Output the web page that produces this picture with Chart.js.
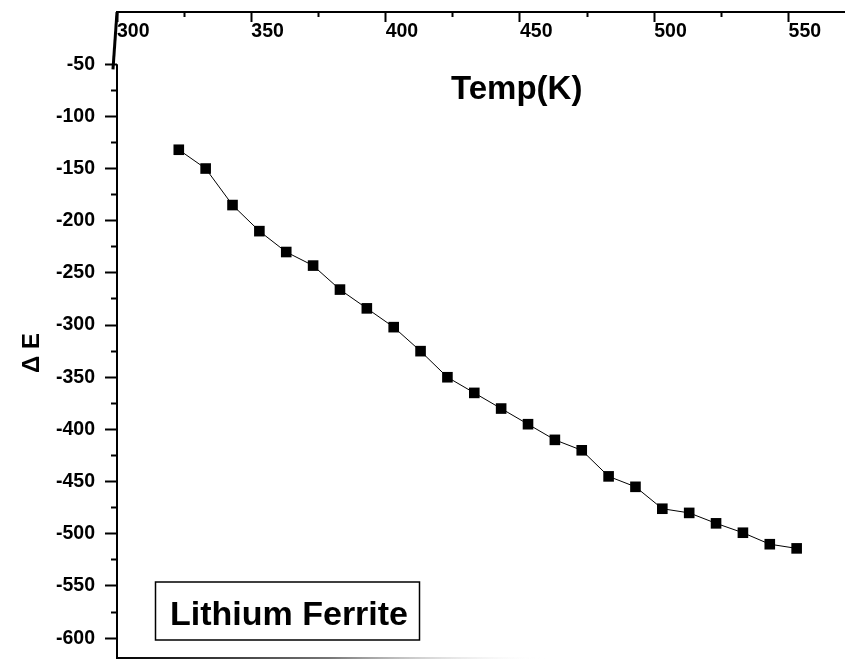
<!DOCTYPE html>
<html>
<head>
<meta charset="utf-8">
<script src="https://cdn.jsdelivr.net/npm/chart.js@4.4.1/dist/chart.umd.min.js"></script>
<style>
  html, body { margin: 0; padding: 0; background: #fff; }
  #wrap { position: relative; width: 845px; height: 660px; }
</style>
</head>
<body>
<div id="wrap"><canvas id="chart"></canvas></div>
<script>
// temperature (K) and ΔE
const temps = [323, 333, 343, 353, 363, 373, 383, 393, 403, 413, 423, 433,
  443, 453, 463, 473, 483, 493, 503, 513, 523, 533, 543, 553]
const deltaE = [-132, -150, -185, -210, -230, -243, -266, -284, -302, -325, -350, -365,
  -380, -395, -410, -420, -445, -455, -476, -480, -490, -499, -510, -514]

const xTicks = [300, 350, 400, 450, 500, 550]
const xMinor = [325, 375, 425, 475, 525]
const yTicks = [-50, -100, -150, -200, -250, -300, -350, -400, -450, -500, -550, -600]
const yMinor = [-75, -125, -175, -225, -275, -325, -375, -425, -475, -525, -575]

const FONT = 'Liberation Sans, Arial, sans-serif'
const tickFont = { family: FONT, size: 19.5, weight: 'bold', lineHeight: 1 }

const noPad = s => { s.paddingLeft = 0; s.paddingRight = 0; s.paddingTop = 0; s.paddingBottom = 0 }

const decor = {
  id: 'decor',
  afterDraw(chart) {
    const { ctx, chartArea: a, scales } = chart
    const xs = scales.x, ys = scales.y
    const left = xs.getPixelForValue(300)
    ctx.save()
    ctx.strokeStyle = '#000'
    ctx.lineCap = 'butt'

    // left axis, starting at -50
    ctx.lineWidth = 2
    ctx.beginPath()
    ctx.moveTo(left, ys.getPixelForValue(-50))
    ctx.lineTo(left, a.bottom)
    ctx.stroke()

    // the slanted stroke up to the top axis
    ctx.lineWidth = 3
    ctx.beginPath()
    ctx.moveTo(xs.getPixelForValue(298.5), ys.getPixelForValue(-55))
    ctx.lineTo(left, a.top)
    ctx.stroke()

    // bottom frame, fading out
    const g = ctx.createLinearGradient(left, 0, 545, 0)
    g.addColorStop(0, '#000')
    g.addColorStop(0.5, '#777')
    g.addColorStop(1, 'rgba(255,255,255,0)')
    ctx.strokeStyle = g
    ctx.lineWidth = 2
    ctx.beginPath()
    ctx.moveTo(left, a.bottom - 1)
    ctx.lineTo(545, a.bottom - 1)
    ctx.stroke()

    ctx.fillStyle = '#000'
    ctx.textBaseline = 'alphabetic'

    // axis titles
    ctx.font = `bold 33px ${FONT}`
    ctx.textAlign = 'left'
    ctx.fillText('Temp(K)', 451, 99)

    ctx.save()
    ctx.translate(39, 353)
    ctx.rotate(-Math.PI / 2)
    ctx.font = `bold 24px ${FONT}`
    ctx.textAlign = 'center'
    ctx.fillText('Δ E', 0, 0)
    ctx.restore()

    // sample label box
    ctx.strokeStyle = '#000'
    ctx.lineWidth = 1.5
    ctx.strokeRect(155.5, 582, 264, 58)
    ctx.font = `bold 34px ${FONT}`
    ctx.textAlign = 'left'
    ctx.fillText('Lithium Ferrite', 170, 625)

    ctx.restore()
  }
}

new Chart(document.getElementById('chart'), {
  type: 'scatter',
  data: {
    datasets: [{
      label: 'Lithium Ferrite',
      data: temps.map((t, i) => ({ x: t, y: deltaE[i] })),
      showLine: true,
      borderColor: '#000',
      borderWidth: 1,
      pointStyle: 'rect',
      pointRadius: 7.5,
      pointHoverRadius: 7.5,
      pointBackgroundColor: '#000',
      pointBorderWidth: 0,
      clip: false,
    }],
  },
  options: {
    responsive: true,
    maintainAspectRatio: false,
    animation: false,
    layout: { autoPadding: false, padding: { top: 12, left: 0, right: 0, bottom: 1 } },
    plugins: { legend: { display: false }, tooltip: { enabled: false } },
    scales: {
      x: {
        type: 'linear',
        position: { y: 0 },
        min: 300,
        max: 571,
        afterBuildTicks: s => { s.ticks = xTicks.map(v => ({ value: v })) },
        afterFit: noPad,
        grid: { drawOnChartArea: false, tickLength: 9, tickWidth: 2, tickColor: '#000' },
        border: { display: true, color: '#000', width: 2 },
        ticks: { align: 'start', padding: 1, maxRotation: 0, color: '#000', font: tickFont },
      },
      xMinor: {
        type: 'linear',
        position: { y: 0 },
        min: 300,
        max: 571,
        afterBuildTicks: s => { s.ticks = xMinor.map(v => ({ value: v })) },
        afterFit: noPad,
        grid: { drawOnChartArea: false, tickLength: 5, tickWidth: 2, tickColor: '#000' },
        border: { display: false },
        ticks: { display: false },
      },
      y: {
        type: 'linear',
        position: 'left',
        min: -620,
        max: 0,
        afterBuildTicks: s => { s.ticks = yTicks.map(v => ({ value: v })) },
        afterFit: s => { s.width = 117; noPad(s) },
        grid: { drawOnChartArea: false, tickLength: 12, tickWidth: 2, tickColor: '#000' },
        border: { display: false },
        ticks: { padding: 10, color: '#000', font: tickFont },
      },
      yMinor: {
        type: 'linear',
        position: { x: 300 },
        min: -620,
        max: 0,
        afterBuildTicks: s => { s.ticks = yMinor.map(v => ({ value: v })) },
        afterFit: noPad,
        grid: { drawOnChartArea: false, tickLength: 6, tickWidth: 2, tickColor: '#000' },
        border: { display: false },
        ticks: { display: false },
      },
    },
  },
  plugins: [decor],
})
</script>
</body>
</html>
